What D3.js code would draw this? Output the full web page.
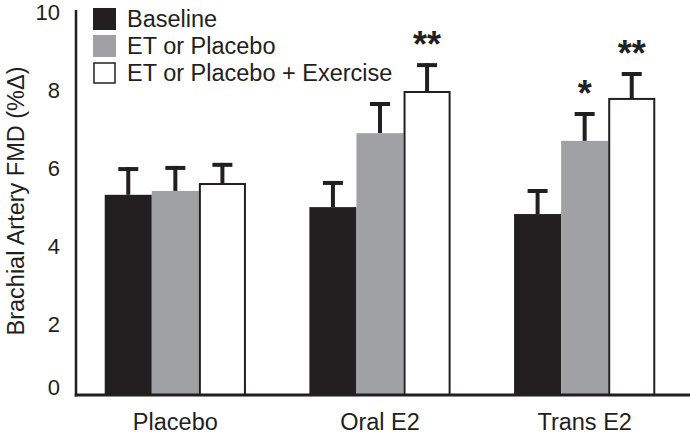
<!DOCTYPE html>
<html><head><meta charset="utf-8">
<script src="https://cdn.jsdelivr.net/npm/d3@7"></script>
<style>body{margin:0;background:#fff}svg{display:block}text{font-family:"Liberation Sans",Arial,sans-serif;fill:#231f20}</style>
</head><body><svg id="c" width="690" height="435"></svg>
<script>
const categories = ["Placebo", "Oral E2", "Trans E2"];
const seriesNames = ["Baseline", "ET or Placebo", "ET or Placebo + Exercise"];
const baseline = [5.2, 4.88, 4.7];
const etOrPlacebo = [5.3, 6.8, 6.6];
const exercise = [5.48, 7.87, 7.69];
const baselineErr = [0.72, 0.68, 0.65];
const etErr = [0.65, 0.81, 0.75];
const exerciseErr = [0.55, 0.75, 0.7];
const significance = [["", "", ""], ["", "", "**"], ["", "*", "**"]];
const yTicks = [0, 2, 4, 6, 8, 10];
const colors = ["#231f20", "#a0a1a4", "#ffffff"];

const values = [baseline, etOrPlacebo, exercise];
const errs = [baselineErr, etErr, exerciseErr];

const svg = d3.select("#c");
const x0 = d3.scaleBand().domain(categories).range([73, 687]).paddingInner(0.31).paddingOuter(0.155);
const x1 = d3.scaleBand().domain(d3.range(3)).range([0, x0.bandwidth()]);
const y = d3.scaleLinear().domain([0, 10]).range([395, 10]);

// bars
categories.forEach((c, ci) => {
  const g = svg.append("g").attr("transform", `translate(${x0(c)},0)`);
  for (let s = 0; s < 3; s++) {
    const v = values[s][ci], e = errs[s][ci];
    const bx = x1(s), bw = x1.bandwidth();
    const cx = bx + bw / 2;
    // error bar
    g.append("line").attr("x1", cx).attr("x2", cx).attr("y1", y(v)).attr("y2", y(v + e))
      .attr("stroke", "#231f20").attr("stroke-width", 4);
    g.append("line").attr("x1", cx - 10).attr("x2", cx + 10).attr("y1", y(v + e) + 2).attr("y2", y(v + e) + 2)
      .attr("stroke", "#231f20").attr("stroke-width", 4);
    if (s === 2) {
      g.append("rect").attr("x", bx + 1).attr("y", y(v)).attr("width", bw - 2).attr("height", y(0) - y(v))
        .attr("fill", "#fff").attr("stroke", "#231f20").attr("stroke-width", 2);
    } else {
      g.append("rect").attr("x", bx).attr("y", y(v)).attr("width", bw).attr("height", y(0) - y(v))
        .attr("fill", colors[s]);
    }
    const sig = significance[ci][s];
    if (sig) {
      g.append("text").attr("x", cx).attr("y", y(v + e) - 6).attr("text-anchor", "middle")
        .attr("font-size", 36).attr("font-weight", "bold").text(sig);
    }
  }
});

// axes
svg.append("line").attr("x1", 76).attr("x2", 76).attr("y1", y(10)).attr("y2", y(0) + 1.5)
  .attr("stroke", "#231f20").attr("stroke-width", 2.5);
svg.append("line").attr("x1", 74.75).attr("x2", 690).attr("y1", y(0)).attr("y2", y(0))
  .attr("stroke", "#231f20").attr("stroke-width", 3);

svg.selectAll(".yt").data(yTicks).enter().append("text")
  .attr("x", 60).attr("y", d => y(d) + (d === 0 ? -8 : 2.5 + (10 - d) * 0.45)).attr("text-anchor", "end").attr("dy", "0.35em")
  .attr("font-size", 22).text(d => d);

svg.selectAll(".xt").data(categories).enter().append("text")
  .attr("x", d => x0(d) + x0.bandwidth() / 2).attr("y", 430).attr("text-anchor", "middle")
  .attr("font-size", 23.5).text(d => d);

svg.append("text").attr("transform", "translate(24,201) rotate(-90)").attr("text-anchor", "middle")
  .attr("font-size", 23.5).text("Brachial Artery FMD (%Δ)");

// legend
seriesNames.forEach((n, i) => {
  const ly = 8 + i * 27;
  if (i === 2) {
    svg.append("rect").attr("x", 94).attr("y", ly + 1).attr("width", 21).attr("height", 20)
      .attr("fill", "#fff").attr("stroke", "#231f20").attr("stroke-width", 1.5);
  } else {
    svg.append("rect").attr("x", 93).attr("y", ly).attr("width", 23).attr("height", 22).attr("fill", colors[i]);
  }
  svg.append("text").attr("x", 127).attr("y", ly + 19).attr("font-size", 23.5).text(n);
});
</script></body></html>
